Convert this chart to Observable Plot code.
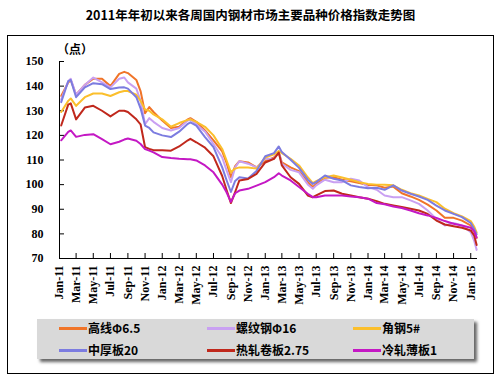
<!DOCTYPE html>
<html><head><meta charset="utf-8">
<script src="https://cdn.jsdelivr.net/npm/d3@7"></script>
<script src="https://cdn.jsdelivr.net/npm/@observablehq/plot@0.6"></script>
<style>
html,body{margin:0;padding:0;background:#fff;}
#wrap{position:relative;width:501px;height:381px;overflow:hidden;font-family:"Noto Sans CJK SC",sans-serif;}
#chart{position:absolute;left:0;top:0;}
#frame{position:absolute;left:7px;top:35px;width:485px;height:337px;border:1px solid #000;}
#title{position:absolute;left:0;top:6px;width:501px;text-align:center;font-size:12.5px;font-weight:bold;line-height:18px;color:#000;}
#unit{position:absolute;left:57px;top:41px;font-size:12px;font-weight:bold;line-height:16px;color:#000;}
#legend{position:absolute;left:37px;top:319px;width:437px;height:40px;background:#d9d9d9;box-shadow:3px 3px 3px #666;}
.item{position:absolute;height:16px;font-size:12px;font-weight:bold;line-height:16px;white-space:nowrap;color:#000;}
.swatch{display:inline-block;width:28px;height:3px;vertical-align:middle;margin-right:1px;position:relative;top:-1px;}
</style></head>
<body>
<div id="wrap">
  <div id="chart"></div>
  <div id="frame"></div>
  <div id="title">2011年年初以来各周国内钢材市场主要品种价格指数走势图</div>
  <div id="unit">（点）</div>
  <div id="legend"></div>
</div>
<script>
const dates = ["2011-01-07","2011-02-01","2011-02-10","2011-03-01","2011-04-01","2011-05-01","2011-06-01","2011-07-01","2011-08-01","2011-08-19",
"2011-09-01","2011-10-01","2011-10-16","2011-11-01","2011-11-16","2011-12-01","2012-01-01","2012-02-01","2012-03-01","2012-04-01",
"2012-04-10","2012-05-01","2012-06-01","2012-07-01","2012-08-01","2012-08-16","2012-09-01","2012-09-16","2012-10-01","2012-11-01",
"2012-12-01","2013-01-01","2013-02-01","2013-02-18","2013-03-01","2013-04-01","2013-05-01","2013-06-01","2013-06-19","2013-07-01",
"2013-08-01","2013-09-01","2013-10-01","2013-11-01","2013-12-01","2014-01-01","2014-02-01","2014-03-01","2014-04-01","2014-05-01",
"2014-06-01","2014-07-01","2014-08-01","2014-09-01","2014-10-01","2014-11-01","2014-12-01","2015-01-01","2015-01-13","2015-01-22"];

const gaoxian = [136,141.5,142.5,136.5,140.5,143,143,140,145,145.8,
145.3,142.5,138,129,131.5,129.5,126,123,123.5,126.5,
127,125.5,122,118,113.5,109,103,107.5,109.5,109,
107,109.5,111,113,109,107,105.5,101,99,100.3,
102.8,103,102,101.4,100.6,99.8,99.7,98.7,99.2,96.5,
95.2,93.8,91.9,89.5,86.5,86.5,85.4,83.4,81.1,78.4];

const luowengang = [134.5,142,143,136.5,140.5,143.5,141.5,139.5,143,143.5,
141.5,139,134,124.5,127,125.5,123,122,123,126,
126.5,124.5,121.5,116.5,111,106,101,107,109.5,108.5,
107,110.5,110.5,113.5,108.5,106,105,100.1,98.3,99.7,
102,101,101,102.4,101.7,99,97.9,95.6,94.9,94.9,
93.6,92.2,89.5,86.1,83.4,84.4,83.4,80.7,77.3,73.5];

const jiaogang = [129.5,134,135,132,135.5,137,137,136,137.5,138,
138,136.5,134,130.5,130,128.5,126.5,123.5,125,126.3,
126.5,125.5,123.5,120,114.5,110,105,106.5,107,107,
106.5,111,112.3,113.6,112.8,110.5,107.8,103,100.6,101.4,
103,103.7,102.9,102,101,100.3,100,99.9,99.7,97.9,
96.5,95.6,94.2,92.9,90.2,88.4,87.1,85.2,83,80.5];

const zhonghouban = [133.5,142,142.5,135.5,139.5,141.2,140.8,138.8,139.4,139.5,
139,135.5,131,124,123,121.2,120,119.3,121.5,124.7,
125.3,124,119.3,115.2,107,102,97,101.5,103,102.5,
105.5,111.5,112.8,115.5,113.2,110.1,106.8,102,100.3,101,
103.7,102.4,101.7,99.7,99,98.5,98.7,97.9,99.7,97.6,
96.3,95.2,93.8,91.5,89.5,88.1,86.8,84.4,82,79.8];

const rezha = [124,132.5,133,126.5,131.3,132,130,127.7,130,130,
129.5,126.5,124.5,115.2,114.5,114,114,113.8,115.5,118,
118.6,117.2,115,111.5,103.5,98,92.5,97,101.7,102.3,
104.4,109,110.5,113,107.8,103,100.3,95.6,94.9,95.6,
97.4,97.6,96.3,95.6,94.9,94.3,93.3,92.2,91.5,90.9,
90.2,89.5,88.1,85.4,83.8,83.1,82.5,81.4,79.4,75.5];

const lengzha = [118,121.4,122,119.4,120.2,120.5,118.5,116.4,117.4,118.3,
118.7,117.8,116.5,114.4,113.8,113.1,111.2,110.8,110.5,110.3,
110.3,109.8,107.8,105,100,97,93,96.5,97.6,98.3,
99.6,101,103,104.6,103.7,101.7,99,96.3,94.9,94.9,
95.6,95.6,95.6,95.2,94.9,94.3,92.5,92,91.1,90.5,
89.5,88.4,87.5,86.5,85.2,84.1,83.4,82.5,81.1,78.5];

const seriesNames = ["高线Φ6.5","螺纹钢Φ16","角钢5#","中厚板20","热轧卷板2.75","冷轧薄板1"];
const seriesColors = ["#F07428","#C9A0F2","#FBBF2C","#7C7CE0","#C0281C","#C418C4"];
const seriesValues = [gaoxian, luowengang, jiaogang, zhonghouban, rezha, lengzha];

const yTicks = [70,80,90,100,110,120,130,140,150];
const xTickLabels = ["Jan-11","Mar-11","May-11","Jul-11","Sep-11","Nov-11",
"Jan-12","Mar-12","May-12","Jul-12","Sep-12","Nov-12",
"Jan-13","Mar-13","May-13","Jul-13","Sep-13","Nov-13",
"Jan-14","Mar-14","May-14","Jul-14","Sep-14","Nov-14","Jan-15"];

const parseDate = d3.utcParse("%Y-%m-%d");
const parseTick = d3.utcParse("%b-%y");
const xDomain = [parseDate("2011-01-01"), parseDate("2015-01-25")];

const data = [];
seriesValues.forEach((vals, si) => vals.forEach((v, i) => data.push({date: parseDate(dates[i]), value: v, series: seriesNames[si]})));

const tickDates = xTickLabels.map(s => parseTick(s));
const labelMap = new Map(tickDates.map((d, i) => [+d, xTickLabels[i]]));

const W = 501, H = 381, mL = 59, mR = 24, mT = 61, mB = 123;

const chart = Plot.plot({
  width: W, height: H,
  marginLeft: mL, marginRight: mR, marginTop: mT, marginBottom: mB,
  style: {fontFamily: "'Liberation Serif', serif", fontSize: "12px", fontWeight: "bold", background: "transparent", color: "#000"},
  x: {type: "utc", domain: xDomain},
  y: {domain: [70, 150]},
  color: {domain: seriesNames, range: seriesColors},
  marks: [
    Plot.axisY({ticks: yTicks, tickSize: 0, tickPadding: 16, label: null, tickFormat: d => String(d)}),
    Plot.axisX({ticks: tickDates, tickSize: 0, tickPadding: 7, tickRotate: -90, label: null, tickFormat: d => labelMap.get(+d)}),
    Plot.tickY(yTicks, {y: d => d, insetRight: (W - mL - mR) - 5, stroke: "#000"}),
    Plot.tickX(tickDates, {x: d => d, insetTop: (H - mT - mB) - 5, stroke: "#000"}),
    Plot.line(data, {x: "date", y: "value", stroke: "series", z: "series", strokeWidth: 2}),
    Plot.ruleX([xDomain[0]], {stroke: "#000"}),
    Plot.ruleY([70], {stroke: "#000"})
  ]
});
document.getElementById("chart").appendChild(chart);

const legend = document.getElementById("legend");
const colX = [22, 170, 316];
const rowY = [1, 23];
seriesNames.forEach((name, i) => {
  const it = document.createElement("div");
  it.className = "item";
  it.style.left = colX[i % 3] + "px";
  it.style.top = rowY[Math.floor(i / 3)] + "px";
  const sw = document.createElement("span");
  sw.className = "swatch";
  sw.style.background = seriesColors[i];
  it.appendChild(sw);
  it.appendChild(document.createTextNode(name));
  legend.appendChild(it);
});
</script>
</body></html>
